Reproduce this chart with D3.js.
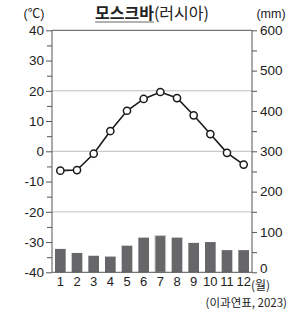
<!DOCTYPE html>
<html>
<head>
<meta charset="utf-8">
<script src="https://cdn.jsdelivr.net/npm/d3@7"></script>
<style>
  html, body { margin: 0; padding: 0; background: #fff; }
  svg { display: block; }
  text { font-family: "Liberation Sans", Arial, "Noto Sans CJK KR", sans-serif; fill: #222; }
  .kr { font-family: "Noto Sans CJK KR", sans-serif; }
</style>
</head>
<body>
<svg id="chart" width="296" height="312"></svg>
<script>
const months = ["1","2","3","4","5","6","7","8","9","10","11","12"];
const temperature = [-6.4, -6.2, -0.8, 6.7, 13.4, 17.3, 19.6, 17.6, 11.9, 5.7, -0.5, -4.4];
const precipitation = [58, 48, 41, 39, 66, 86, 91, 86, 73, 75, 55, 55];
const tempTicks = [40, 30, 20, 10, 0, -10, -20, -30, -40];
const precipTicks = [600, 500, 400, 300, 200, 100, 0];
const gridTemps = [20, 0, -20];

(function () {
const svg = d3.select("#chart");
const mL = 52, mR = 252, mT = 30.3, mB = 272.3;

const x = d3.scaleBand().domain(months).range([mL, mR]).paddingInner(0.36).paddingOuter(0.18);
const yT = d3.scaleLinear().domain([-40, 40]).range([mB, mT]);
const yP = d3.scaleLinear().domain([0, 600]).range([mB, mT]);

// gridlines
svg.append("g").selectAll("line").data(gridTemps).join("line")
  .attr("x1", mL).attr("x2", mR)
  .attr("y1", d => yT(d)).attr("y2", d => yT(d))
  .attr("stroke", d => d === -20 ? "#d8d8d8" : "#bdbdbd")
  .attr("stroke-width", d => d === -20 ? 1.5 : 1);

// bars
svg.append("g").selectAll("rect").data(precipitation).join("rect")
  .attr("x", (d, i) => x(months[i]))
  .attr("width", x.bandwidth())
  .attr("y", d => yP(d))
  .attr("height", d => yP(0) - yP(d))
  .attr("fill", "#67676a")
  .attr("stroke", (d, i) => i === 6 ? "#c8c8c8" : "none")
  .attr("stroke-width", 1);

// frame top line
svg.append("line").attr("x1", mL).attr("x2", mR).attr("y1", mT).attr("y2", mT)
  .attr("stroke", "#555").attr("stroke-width", 1);

const axisFont = "Liberation Sans, Arial, sans-serif";

// left axis
const axL = d3.axisLeft(yT).tickValues(d3.range(-40, 41, 5)).tickSize(6).tickPadding(2)
  .tickFormat(d => d % 10 === 0 ? d : "");
const gL = svg.append("g").attr("transform", `translate(${mL},0)`).call(axL);
gL.select(".domain").attr("stroke", "#555").attr("d", `M0,${mT}V${mB}`);
gL.selectAll(".tick line").attr("stroke", "#555");
gL.selectAll(".tick line").filter(d => d % 10 !== 0).attr("x2", -5);
gL.selectAll("text").attr("font-size", 13.5).attr("fill", "#222").attr("font-family", axisFont);

// right axis
const axR = d3.axisRight(yP).tickValues(d3.range(0, 601, 50)).tickSize(5).tickPadding(3)
  .tickFormat(d => d % 100 === 0 ? d : "");
const gR = svg.append("g").attr("transform", `translate(${mR},0)`).call(axR);
gR.select(".domain").attr("stroke", "#555").attr("d", `M0,${mT}V${mB}`);
gR.selectAll(".tick line").attr("stroke", "#555");
gR.selectAll("text").attr("font-size", 13.5).attr("fill", "#222").attr("font-family", axisFont);
gR.selectAll(".tick text").filter(d => d === 0).attr("dy", "0.05em");

// bottom line
svg.append("line").attr("x1", mL).attr("x2", mR).attr("y1", mB).attr("y2", mB)
  .attr("stroke", "#555").attr("stroke-width", 1);

// month labels
const axB = d3.axisBottom(x).tickSize(0).tickPadding(4);
const gB = svg.append("g").attr("transform", `translate(0,${mB})`).call(axB);
gB.select(".domain").remove();
gB.selectAll("text").attr("font-size", 13).attr("fill", "#222").attr("font-family", axisFont);

svg.append("text").attr("class", "kr").attr("x", 251).attr("y", 289.5).attr("font-size", 12)
  .text("(월)");

// temperature line
const line = d3.line().x((d, i) => x(months[i]) + x.bandwidth() / 2).y(d => yT(d));
svg.append("path").datum(temperature).attr("d", line)
  .attr("fill", "none").attr("stroke", "#1a1a1a").attr("stroke-width", 1.6);
svg.append("g").selectAll("circle").data(temperature).join("circle")
  .attr("cx", (d, i) => x(months[i]) + x.bandwidth() / 2)
  .attr("cy", d => yT(d))
  .attr("r", 3.6)
  .attr("fill", "#fff").attr("stroke", "#1a1a1a").attr("stroke-width", 1.5);

// title
const title = svg.append("text").attr("class", "kr").attr("x", 152).attr("y", 19)
  .attr("text-anchor", "middle").attr("font-size", 16);
title.append("tspan").attr("font-weight", "bold").text("모스크바");
title.append("tspan").text("(러시아)");
const full = title.node().getBBox();
const boldLen = title.node().getSubStringLength(0, 4);
svg.append("line").attr("x1", full.x).attr("x2", full.x + boldLen).attr("y1", 22).attr("y2", 22)
  .attr("stroke", "#999").attr("stroke-width", 1.5);

svg.append("text").attr("x", 34).attr("y", 18).attr("text-anchor", "middle").attr("font-size", 12.5).text("(℃)");
svg.append("text").attr("x", 271).attr("y", 18).attr("text-anchor", "middle").attr("font-size", 12.5).text("(mm)");

svg.append("text").attr("class", "kr").attr("x", 287).attr("y", 307).attr("text-anchor", "end")
  .attr("font-size", 11.5).text("(이과연표, 2023)");
})();
</script>
</body>
</html>
